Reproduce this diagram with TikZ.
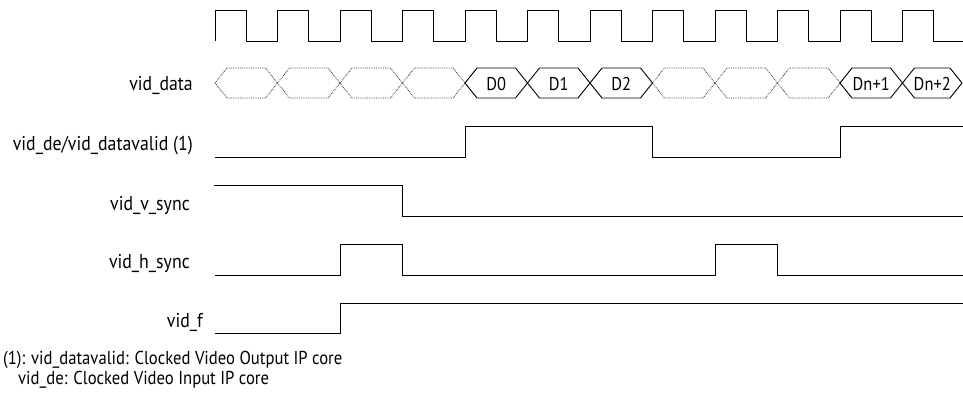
\documentclass[tikz,border=0pt]{standalone}
\usepackage{fontspec}
\setmainfont{PT Sans}[FakeStretch=0.89]
\usetikzlibrary{calc}
\tikzset{
  sig/.style={line width=1pt,black},
  busdot/.style={line width=0.8pt,black!80,densely dotted},
  busval/.style={line width=0.9pt,black},
  lbl/.style={anchor=base east,inner sep=0pt,font=\fontsize{20}{24}\selectfont},
  vallbl/.style={anchor=base,inner sep=0pt,font=\fontsize{18.5}{22}\selectfont},
  note/.style={anchor=base west,inner sep=0pt,font=\fontsize{18.7}{22}\selectfont},
}

\begin{document}
\begin{tikzpicture}[x=1pt,y=-1pt]
  \useasboundingbox (0,0) rectangle (963,394);
  % clock
  \draw[sig] (215,41) \foreach \k in {0,...,11}{
      -- (215+62.5*\k,10) -- (246.25+62.5*\k,10)
      -- (246.25+62.5*\k,41) -- (277.5+62.5*\k,41)};
  % vid_data
  \node[lbl](ldata) at (193,90) {vid\_data};
  \foreach \a/\b in {215/277.5,277.5/340,340/402.5,402.5/465,
                     652.5/715,715/777.5,777.5/840}
    \draw[busdot] (\a,83) -- (\a+12,68) -- (\b-12,68) -- (\b,83)
                  -- (\b-12,98) -- (\a+12,98) -- cycle;
  \foreach \a/\b/\t/\n in {465/527.5/D0/d0,527.5/590/D1/d1,590/652.5/D2/d2,
                           840/902.5/Dn+1/dn1,902.5/962/Dn+2/dn2}{
    \draw[busval] (\a,83) -- (\a+12,68) -- (\b-12,68) -- (\b,83)
                  -- (\b-12,98) -- (\a+12,98) -- cycle;
    \node[vallbl](\n) at (\a/2+\b/2,90) {\t};
  }
  % vid_de/vid_datavalid
  \node[lbl](lde) at (193,150) {vid\_de/vid\_datavalid (1)};
  \draw[sig] (215,157) -- (465,157) -- (465,126) -- (652.5,126) -- (652.5,157)
             -- (840,157) -- (840,126) -- (963,126);
  % vid_v_sync
  \node[lbl](lvs) at (190,210) {vid\_v\_sync};
  \draw[sig] (214,185) -- (402.5,185) -- (402.5,216) -- (963,216);
  % vid_h_sync
  \node[lbl](lhs) at (190,268) {vid\_h\_sync};
  \draw[sig] (215,275) -- (340,275) -- (340,244) -- (402.5,244) -- (402.5,275)
             -- (715,275) -- (715,244) -- (777.5,244) -- (777.5,275) -- (963,275);
  % vid_f
  \node[lbl](lf) at (203,327) {vid\_f};
  \draw[sig] (215,333) -- (340,333) -- (340,303) -- (963,303);
  % note
  \node[note](n1) at (3,364) {(1): vid\_datavalid: Clocked Video Output IP core};
  \node[note](n2) at (18,384) {vid\_de: Clocked Video Input IP core};
\end{tikzpicture}
\end{document}
